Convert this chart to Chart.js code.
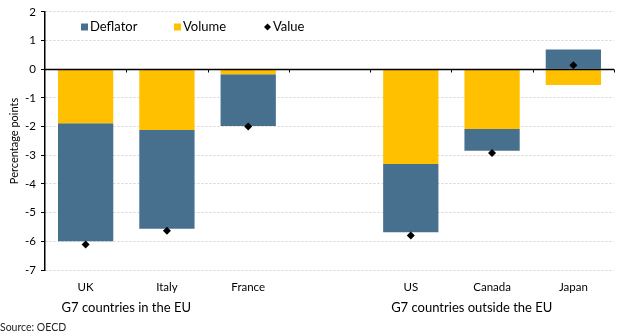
<!DOCTYPE html>
<html>
<head>
<meta charset="utf-8">
<script src="https://cdn.jsdelivr.net/npm/chart.js@4.4.1/dist/chart.umd.min.js"></script>
<style>
  html, body { margin: 0; padding: 0; background: #fff; }
  #wrap { width: 621px; height: 336px; position: relative; }
</style>
</head>
<body>
<div id="wrap"><canvas id="mainChart" width="621" height="336"></canvas></div>
<script>
// --- data ---
const countries = ['UK', 'Italy', 'France', '', 'US', 'Canada', 'Japan'];
const volume   = [-1.88, -2.12, -0.17, null, -3.30, -2.08, -0.55];
const deflator = [-4.12, -3.44, -1.81, null, -2.38, -0.76, 0.69];
const value    = [-6.11, -5.63, -2.00, null, -5.80, -2.92, 0.14];
const yTicks   = [2, 1, 0, -1, -2, -3, -4, -5, -6, -7];
const groups   = [
    { label: 'G7 countries in the EU', at: 0.5 },
    { label: 'G7 countries outside the EU', at: 4.75 }
];

const FONT = 'Lato, "DejaVu Sans", sans-serif';
const BLUE = '#47708f';
const GOLD = '#ffc000';

// legend, zero line, axis ticks, group labels, source
const extras = {
    id: 'extras',
    afterDatasetsDraw(chart) {
        const { ctx, chartArea, scales: { x, y } } = chart;
        const y0 = Math.round(y.getPixelForValue(0)) + 0.5;
        ctx.save();
        ctx.strokeStyle = '#000';
        ctx.lineWidth = 1.5;
        ctx.beginPath();
        ctx.moveTo(chartArea.left, y0);
        ctx.lineTo(chartArea.right, y0);
        ctx.stroke();
        ctx.lineWidth = 1;
        for (let i = 0; i < countries.length; i++) {
            const px = Math.round(x.getPixelForValue(i + 0.5)) + 0.5;
            ctx.beginPath();
            ctx.moveTo(px, y0);
            ctx.lineTo(px, y0 + 3);
            ctx.stroke();
        }
        ctx.restore();
    },
    afterDraw(chart) {
        const { ctx, scales: { x } } = chart;
        ctx.save();
        // legend
        const items = [
            { label: 'Deflator', color: BLUE, shape: 'box', x: 81 },
            { label: 'Volume', color: GOLD, shape: 'box', x: 174 },
            { label: 'Value', color: '#000', shape: 'diamond', x: 264 }
        ];
        const ly = 27;
        ctx.font = '13px ' + FONT;
        ctx.textBaseline = 'middle';
        ctx.textAlign = 'left';
        items.forEach(it => {
            ctx.fillStyle = it.color;
            if (it.shape === 'box') {
                ctx.fillRect(it.x, ly - 3.5, 7, 7);
            } else {
                ctx.beginPath();
                ctx.moveTo(it.x + 3.5, ly - 3.5);
                ctx.lineTo(it.x + 7, ly);
                ctx.lineTo(it.x + 3.5, ly + 3.5);
                ctx.lineTo(it.x, ly);
                ctx.closePath();
                ctx.fill();
            }
            ctx.fillStyle = '#000';
            ctx.fillText(it.label, it.x + 9, ly);
        });
        // group labels
        ctx.textAlign = 'center';
        ctx.font = '13px ' + FONT;
        groups.forEach(g => {
            ctx.fillText(g.label, x.getPixelForValue(g.at), 308);
        });
        // source
        ctx.textAlign = 'left';
        ctx.font = '10.5px ' + FONT;
        ctx.fillStyle = '#222';
        ctx.fillText('Source: OECD', 0, 328);
        ctx.restore();
    }
};

const ctx = document.getElementById('mainChart').getContext('2d');
const mainChart = new Chart(ctx, {
    type: 'bar',
    data: {
        labels: countries,
        datasets: [
            { label: 'Volume', data: volume, backgroundColor: GOLD, stack: 'bars', order: 2,
              categoryPercentage: 1, barPercentage: 0.68 },
            { label: 'Deflator', data: deflator, backgroundColor: BLUE, stack: 'bars', order: 2,
              categoryPercentage: 1, barPercentage: 0.68 },
            { type: 'line', label: 'Value', data: value, stack: 'value', order: 1,
              showLine: false, pointStyle: 'rectRot', pointRadius: 4, pointHoverRadius: 4,
              backgroundColor: '#000', borderColor: '#000', borderWidth: 0 }
        ]
    },
    plugins: [extras],
    options: {
        responsive: false,
        animation: false,
        devicePixelRatio: 1,
        layout: { padding: { top: 5, right: 7, left: 0, bottom: 0 } },
        plugins: { legend: { display: false }, tooltip: { enabled: false } },
        scales: {
            x: {
                stacked: true,
                grid: { display: false },
                border: { display: false },
                ticks: { color: '#000', font: { family: FONT, size: 11.5 }, padding: 2,
                         maxRotation: 0, autoSkip: false },
                afterFit: s => { s.height = 66; }
            },
            y: {
                stacked: true,
                min: -7, max: 2,
                afterBuildTicks: s => { s.ticks = yTicks.map(v => ({ value: v })); },
                ticks: { color: '#000', font: { family: FONT, size: 11.5 }, padding: 5, autoSkip: false },
                grid: {
                    color: c => c.tick && c.tick.value === 0 ? 'rgba(0,0,0,0)' : '#d4d4d4',
                    tickColor: '#000',
                    tickLength: 4,
                    lineWidth: 1
                },
                border: { display: true, color: '#000', width: 1.5, dash: [2, 2] },
                title: { display: true, text: 'Percentage points', color: '#000',
                         font: { family: FONT, size: 11 }, padding: { top: 8, bottom: 0 } },
                afterFit: s => { s.width = 45; }
            }
        }
    }
});
</script>
</body>
</html>
